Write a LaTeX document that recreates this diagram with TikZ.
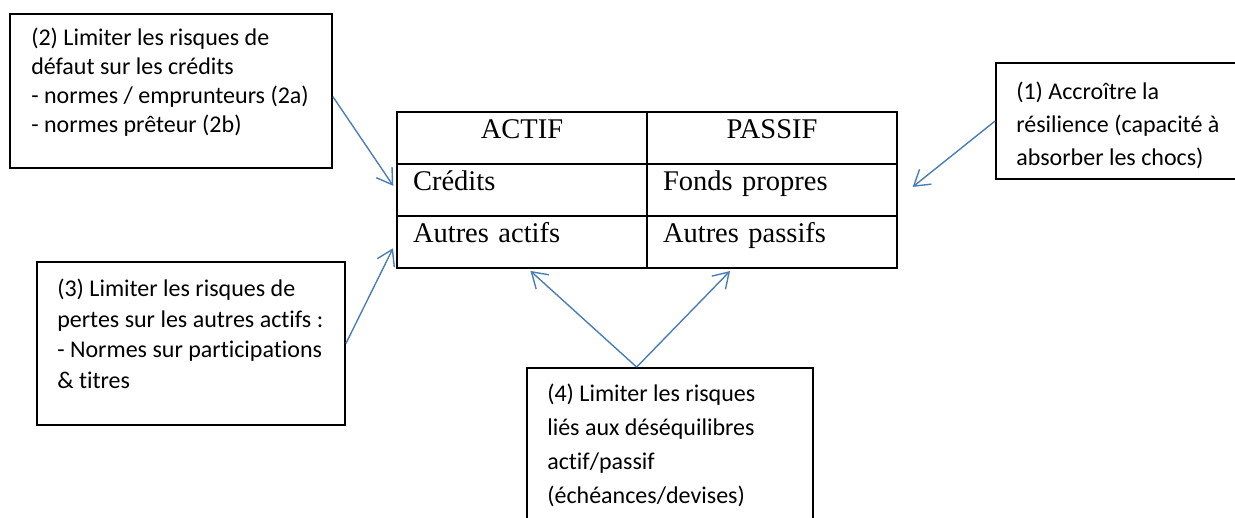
\documentclass[tikz,border=0pt]{standalone}
\usepackage{fontspec}
\usetikzlibrary{arrows.meta,positioning}
\newfontfamily\boxfont{Carlito}[Ligatures=NoCommon]
\newfontfamily\tabfont{Liberation Serif}
\definecolor{arrowblue}{RGB}{74,126,187}
\tikzset{frame/.style={draw=black, line width=1.8pt, inner sep=0pt},
         cell/.style={draw=black, line width=1.8pt, inner ysep=0pt, inner xsep=16pt, minimum width=250pt, text width=218pt, text height=27pt, text depth=25pt, font=\tabfont\fontsize{28.5}{32}\selectfont},
         head/.style={cell, align=center},
         body/.style={cell, align=left},
         boxtext/.style={inner sep=0pt, align=left},
         arr/.style={draw=arrowblue, line width=1.4pt, -{Straight Barb[length=15pt,width=19pt]}}}

\begin{document}
\begin{tikzpicture}[x=1pt,y=-1pt]
   \useasboundingbox (0,0) rectangle (1235,518);
   % bilan
   \node[head] (actif)   at (522,138) {ACTIF};
   \node[head] (passif)  at (772,138) {PASSIF};
   \node[body] (credits) at (522,190) {Crédits};
   \node[body] (fp)      at (772,190) {Fonds propres};
   \node[body] (aa)      at (522,242) {Autres actifs};
   \node[body] (ap)      at (772,242) {Autres passifs};
   % encadres
   \node[frame, minimum width=322pt, minimum height=154pt] (b2) at (171,91) {};
   \node[frame, minimum width=308pt, minimum height=163pt] (b3) at (191,343.5) {};
   \node[frame, minimum width=264pt, minimum height=116pt] (b1) at (1128,121) {};
   \node[frame, minimum width=286pt, minimum height=172pt] (b4) at (670,454) {};
   \node[boxtext, font=\boxfont\fontsize{24}{29}\selectfont, below right=15pt and 22pt of b2.north west] (t2)
     {(2) Limiter les risques de\\défaut sur les crédits\\- normes / emprunteurs (2a)\\- normes prêteur (2b)};
   \node[boxtext, font=\boxfont\fontsize{24}{30.5}\selectfont, below right=18pt and 21pt of b3.north west] (t3)
     {(3) Limiter les risques de\\pertes sur les autres actifs :\\- Normes sur participations\\\& titres};
   \node[boxtext, font=\boxfont\fontsize{24}{33}\selectfont, below right=20pt and 21pt of b1.north west] (t1)
     {(1) Accroître la\\résilience (capacité à\\absorber les chocs)};
   \node[boxtext, font=\boxfont\fontsize{24}{34}\selectfont, below right=17pt and 21pt of b4.north west] (t4)
     {(4) Limiter les risques\\liés aux déséquilibres\\actif/passif\\(échéances/devises)};
   % fleches
   \draw[arr, shorten >=5pt]  (b2.-2.5) -- (credits.west);
   \draw[arr, shorten >=7pt]  (b3.east) -- (aa.west);
   \draw[arr, shorten >=19pt] (b1.west) -- (fp.-4);
   \draw[arr, shorten >=3pt]  (b4.111.6) -- (aa.-77);
   \draw[arr, shorten >=3pt]  (b4.111.6) -- (ap.-146);
\end{tikzpicture}
\end{document}
